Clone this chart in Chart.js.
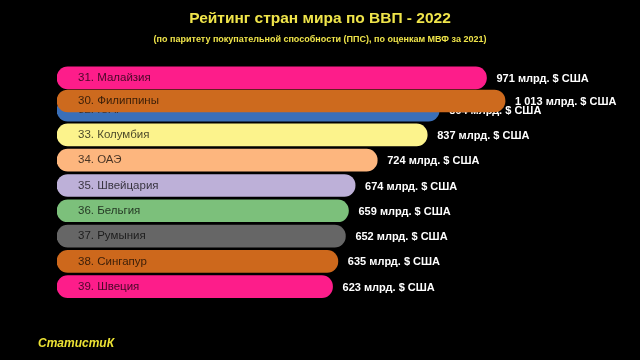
<!DOCTYPE html>
<html>
<head>
<meta charset="utf-8">
<script src="https://cdn.jsdelivr.net/npm/chart.js@4"></script>
<style>
  body { margin: 0; background: #000; }
  #wrap { position: relative; width: 640px; height: 360px; background: #000; }
  #title { position: absolute; left: 0; width: 640px; top: 9px; text-align: center;
    font: bold 15.5px "Liberation Sans", Arial, sans-serif; color: #efe44a; }
  #sub { position: absolute; left: 0; width: 640px; top: 34px; text-align: center;
    font: bold 9px "Liberation Sans", Arial, sans-serif; color: #efe44a; }
  #brand { position: absolute; left: 38px; top: 336px;
    font: italic bold 12px "Liberation Sans", Arial, sans-serif; color: #ece234; }
</style>
</head>
<body>
<div id="wrap">
  <canvas id="chart" width="640" height="360"></canvas>
  <div id="title">Рейтинг стран мира по ВВП - 2022</div>
  <div id="sub">(по паритету покупательной способности (ППС), по оценкам МВФ за 2021)</div>
  <div id="brand">СтатистиК</div>
</div>
<script>
// frame of a bar race: rank position of each bar (fractional while moving)
const countries = ["31. Малайзия", "32. ЮАР", "33. Колумбия", "34. ОАЭ", "35. Швейцария",
  "36. Бельгия", "37. Румыния", "38. Сингапур", "39. Швеция"];
const values = [971, 864, 837, 724, 674, 659, 652, 635, 623];
const positions = [30.75, 32.02, 33, 34, 35, 36, 37, 38, 39];
const colors = ["#fd1d8a", "#3a6fb8", "#fcf38c", "#fdb67e", "#bdb0d8",
  "#7cc07b", "#666666", "#cd681c", "#fd1d8a"];

// the bar moving up on top of the others
const moverName = ["30. Филиппины"];
const moverValue = [1013];
const moverPos = [31.66];
const moverColor = ["#cd6a1e"];

function fmt(v) {
  return String(v).replace(/\B(?=(\d{3})+(?!\d))/g, " ") + " млрд. $ США";
}

const labelPlugin = {
  id: "barLabels",
  afterDatasetDraw(chart, args) {
    const ctx = chart.ctx;
    const ds = chart.data.datasets[args.index];
    args.meta.data.forEach(function(bar, i) {
      ctx.save();
      ctx.textBaseline = "middle";
      ctx.font = "11.5px 'Liberation Sans', Arial, sans-serif";
      ctx.fillStyle = "rgba(0,0,0,0.72)";
      ctx.fillText(ds.names[i], bar.base + 21, bar.y);
      ctx.font = "bold 11px 'Liberation Sans', Arial, sans-serif";
      ctx.fillStyle = "#ffffff";
      ctx.fillText(fmt(ds.data[i].x), bar.x + 10, bar.y + 1);
      ctx.restore();
    });
  }
};

new Chart(document.getElementById("chart"), {
  type: "bar",
  data: {
    datasets: [
      {
        names: countries,
        data: values.map((v, i) => ({ x: v, y: positions[i] })),
        backgroundColor: colors,
        order: 1
      },
      {
        names: moverName,
        data: moverValue.map((v, i) => ({ x: v, y: moverPos[i] })),
        backgroundColor: moverColor,
        order: 0
      }
    ]
  },
  options: {
    indexAxis: "y",
    responsive: false,
    animation: false,
    events: [],
    layout: { padding: { left: 57, right: 8, top: 21, bottom: 48 } },
    datasets: {
      bar: {
        grouped: false,
        barThickness: 22,
        borderRadius: 11,
        borderSkipped: false
      }
    },
    scales: {
      x: { type: "linear", min: 0, max: 1300, display: false, offset: false },
      y: { type: "linear", min: 28.5, max: 40, reverse: true, display: false, offset: false }
    },
    plugins: {
      legend: { display: false },
      tooltip: { enabled: false }
    }
  },
  plugins: [labelPlugin]
});
</script>
</body>
</html>
